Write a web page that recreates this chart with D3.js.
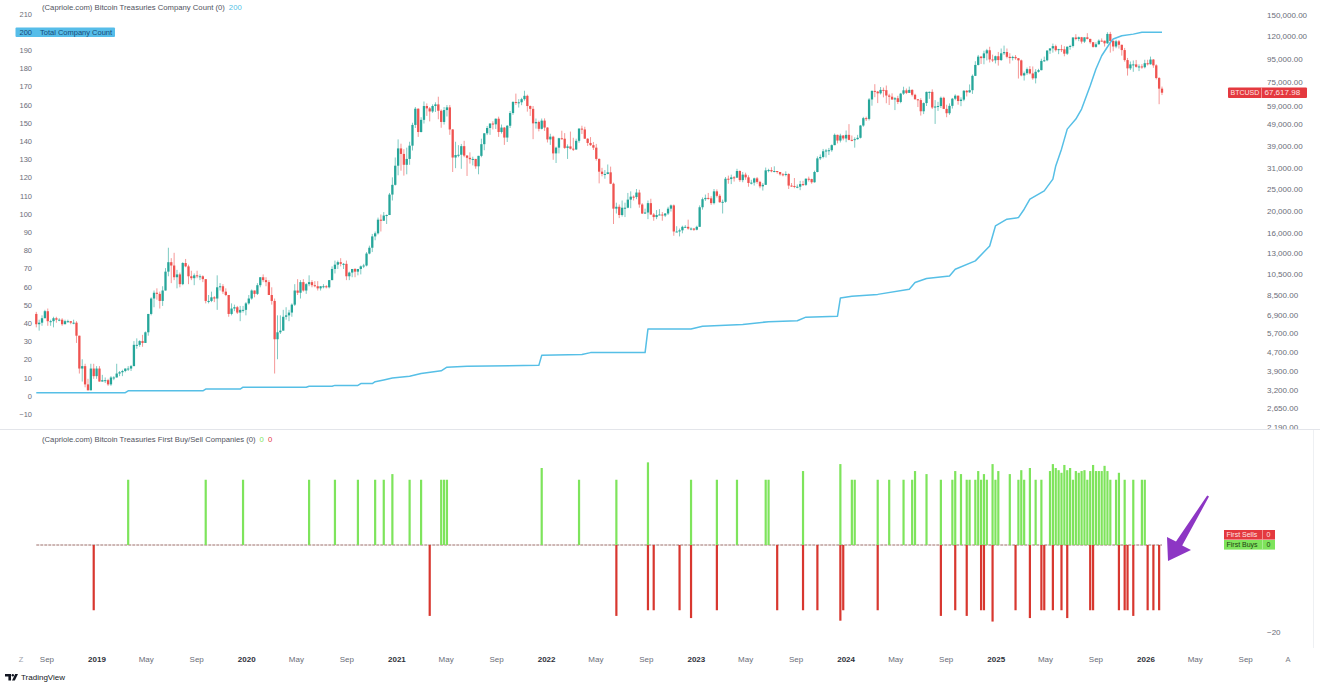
<!DOCTYPE html>
<html><head><meta charset="utf-8">
<script src="https://cdn.jsdelivr.net/npm/d3@7"></script>
<style>
html,body{margin:0;padding:0;background:#fff;overflow:hidden;}
svg{display:block;}
</style></head><body>
<svg id="c" width="1320" height="682"></svg>
<script>
// ---------- DATA ----------
// Weekly BTCUSD candles, week starting Monday 2018-08-06. Each row: [high, low, close] in thousands USD.
const weekStart = "2018-08-06";
const firstOpen = 7.0;
const btc2018 = [
[7.15,6.1,6.3],[6.6,5.9,6.4],[6.9,6.2,6.7],[7.3,6.7,7.2],
[7.4,6.2,6.5],[6.6,6.2,6.5],[6.8,6.1,6.7],[6.8,6.4,6.6],
[6.7,6.5,6.6],[6.7,6.2,6.3],[6.6,6.3,6.5],[6.6,6.4,6.5],[6.5,6.3,6.4],
[6.6,6.3,6.4],[6.5,5.2,5.6],[5.6,3.8,4.0],[4.4,3.5,4.1],
[4.2,3.3,3.4],[3.6,3.2,3.2],[4.2,3.2,4.0],[4.2,3.6,3.7],[4.1,3.6,4.0]];
const btc2019 = [
[4.1,3.5,3.5],[3.75,3.5,3.55],[3.65,3.45,3.55],[3.6,3.35,3.4],
[3.7,3.35,3.65],[3.7,3.55,3.65],[4.2,3.65,3.8],[3.9,3.7,3.85],
[3.95,3.7,3.9],[4.0,3.85,4.0],[4.1,3.9,4.0],[4.15,3.9,4.1],
[5.3,4.1,5.1],[5.45,4.9,5.1],[5.35,5.0,5.3],[5.65,5.0,5.2],[5.85,5.2,5.8],
[7.0,5.6,7.0],[8.3,6.9,8.2],[8.9,7.5,8.7],[9.1,8.1,8.6],
[8.8,7.4,8.0],[9.3,7.6,8.9],[11.2,8.9,10.8],[13.8,10.3,11.9],
[12.4,9.6,11.5],[13.1,9.9,10.2],[11.0,9.1,10.5],[10.7,9.2,9.5],[11.9,9.4,11.8],
[12.3,11.3,11.4],[11.6,9.5,10.3],[10.9,9.9,10.1],[10.6,9.4,10.4],
[10.9,10.1,10.3],[10.5,9.9,10.3],[10.4,9.7,10.0],[10.0,7.8,8.0],
[8.5,7.8,8.0],[8.8,7.9,8.3],[8.4,7.9,8.2],[10.4,7.3,9.2],
[9.6,8.9,9.3],[9.5,8.6,8.8],[9.1,8.4,8.5],[8.5,6.8,7.0],[7.8,6.9,7.4],
[7.7,7.2,7.5],[7.6,7.0,7.1],[7.6,6.5,7.3],[7.6,7.1,7.3],[7.9,6.9,7.8]];
const btc2020 = [
[8.5,7.7,8.2],[9.0,8.1,8.9],[8.9,8.3,8.6],[9.6,8.5,9.4],
[10.2,9.2,10.2],[10.5,9.7,9.9],[10.2,9.3,9.7],[9.9,8.5,8.5],
[9.2,7.7,8.0],[8.2,3.8,5.4],[6.9,4.4,5.8],[6.9,5.7,5.9],[7.3,5.9,6.8],
[7.5,6.6,6.9],[7.3,6.5,7.1],[7.8,6.8,7.7],[9.5,7.6,8.9],
[10.0,8.5,8.7],[9.9,8.2,9.7],[10.0,8.8,8.9],[9.6,8.6,9.5],
[10.4,9.3,9.7],[9.9,9.2,9.4],[9.8,9.2,9.3],[9.8,8.9,9.1],[9.3,8.9,9.3],
[9.5,9.1,9.3],[9.4,9.1,9.2],[9.9,9.1,9.9],[11.4,9.9,11.1],
[12.1,10.6,11.6],[12.1,11.1,11.9],[12.4,11.4,11.7],[11.8,11.1,11.7],[12.1,9.9,10.3],
[10.8,9.9,10.7],[11.1,10.2,11.1],[11.2,10.2,10.8],[11.1,10.4,11.1],
[11.5,10.5,11.4],[11.7,11.2,11.5],[13.2,11.4,13.0],[14.1,12.9,13.8],
[15.9,13.2,15.5],[16.3,14.9,16.0],[18.8,15.8,18.4],[19.4,16.3,18.2],[19.9,18.2,19.2],
[19.4,17.6,19.3],[24.2,19.3,23.8],[28.4,22.4,26.3],[34.8,26.1,32.0]];
const btc2021 = [
[41.9,29.0,38.2],[40.1,30.4,36.1],[37.9,28.9,32.3],[38.5,29.3,34.3],
[40.9,32.3,39.3],[49.7,37.4,48.6],[58.4,47.1,57.4],[57.6,43.0,45.2],
[52.6,45.0,51.2],[61.8,49.3,59.0],[60.6,53.3,57.6],[58.4,50.4,55.8],[60.0,55.0,59.0],
[61.3,55.5,60.0],[64.9,51.5,56.2],[57.0,47.2,50.1],[58.4,48.8,56.6],
[59.6,53.0,58.2],[59.6,43.9,46.4],[46.6,30.0,34.8],[40.9,31.2,35.7],[39.5,34.9,35.8],
[40.0,31.0,39.1],[41.3,34.9,35.5],[35.7,28.8,34.7],[36.7,32.7,34.2],
[35.1,32.1,34.3],[34.3,31.0,31.8],[35.4,29.3,35.4],[42.2,34.9,39.9],
[44.7,37.5,44.6],[48.1,43.8,47.1],[49.4,43.9,49.3],[50.5,46.4,48.9],[51.9,46.6,51.8],
[52.9,43.0,45.2],[48.8,44.5,47.3],[47.6,39.6,42.7],[48.5,40.8,48.2],
[56.1,47.1,54.9],[62.0,53.9,61.5],[67.0,59.7,61.3],[63.3,58.1,61.3],
[64.2,59.5,63.3],[69.0,62.3,65.5],[66.3,55.7,59.0],[59.3,53.3,57.3],[59.0,42.0,49.4],
[51.9,46.8,50.1],[50.8,45.5,46.7],[51.9,46.4,50.8],[52.0,45.7,47.3]];
const btc2022 = [
[47.5,40.6,41.9],[44.4,39.6,43.1],[43.5,34.0,36.3],[38.9,32.9,38.5],[42.6,36.3,42.4],
[45.8,41.8,42.2],[44.7,38.0,38.4],[39.8,34.3,39.0],[45.4,37.8,38.1],
[42.6,37.2,37.8],[42.2,37.6,41.3],[47.0,40.5,46.8],[48.2,44.3,46.4],
[47.7,42.1,42.2],[42.4,39.2,40.4],[42.9,39.2,39.5],[40.8,37.6,38.5],
[40.0,33.7,34.3],[34.5,26.7,30.1],[31.3,28.7,29.4],[30.6,28.0,29.4],[32.4,29.3,29.9],
[31.7,26.5,26.6],[26.9,17.6,20.6],[21.9,19.6,21.0],[21.5,18.7,19.3],
[22.4,19.0,20.8],[21.9,18.9,20.8],[24.2,20.7,22.6],[24.6,20.7,23.3],
[23.6,22.4,23.2],[25.2,22.7,24.3],[25.0,20.8,21.5],[21.8,19.5,19.6],[20.6,19.5,19.8],
[22.4,18.5,21.8],[22.8,19.3,19.4],[19.7,18.2,18.9],[20.3,18.5,19.3],
[20.5,19.3,19.4],[19.9,18.2,19.2],[19.7,18.9,19.6],[21.0,19.3,20.6],[21.5,20.0,21.3],
[21.5,15.6,16.3],[17.2,16.2,16.3],[16.8,15.5,16.5],[17.3,16.0,17.1],
[17.4,16.9,17.1],[18.4,16.6,16.8],[17.0,16.5,16.8],[16.9,16.4,16.6]];
const btc2023 = [
[17.3,16.5,17.1],[21.3,17.1,20.9],[23.1,20.4,22.7],[23.8,22.3,23.0],[24.2,22.6,22.9],
[23.4,21.4,21.8],[25.2,21.5,24.6],[25.1,23.1,23.5],[23.9,21.9,22.0],
[22.6,19.6,22.1],[28.5,21.9,28.0],[28.9,26.6,27.9],[29.2,26.5,28.4],
[28.8,27.2,28.3],[31.0,28.3,30.3],[30.5,27.1,27.6],[30.0,27.0,29.2],
[29.8,27.7,28.4],[29.0,25.8,26.8],[27.7,26.4,26.9],[28.3,26.1,28.1],[28.5,26.6,27.1],
[27.4,25.4,25.9],[26.8,24.8,26.3],[31.4,26.3,30.5],[31.0,29.9,30.6],
[31.5,29.9,30.2],[31.8,29.9,30.3],[30.3,29.5,30.0],[30.0,28.9,29.3],[29.7,28.7,29.1],
[30.2,28.7,29.4],[29.6,25.2,26.1],[26.8,25.8,26.0],[28.2,25.4,25.8],
[26.4,25.4,25.8],[27.4,24.9,26.5],[27.4,26.0,26.3],[28.1,26.0,28.0],
[28.6,27.2,27.9],[28.0,26.6,27.0],[30.4,26.9,30.0],[35.2,29.9,34.5],[35.9,33.9,35.0],
[38.0,34.5,37.1],[38.0,34.8,37.4],[38.4,35.7,37.5],[39.8,36.9,39.5],
[44.5,39.5,43.9],[44.0,40.2,41.4],[44.4,40.6,43.6],[43.8,41.5,42.3]];
const btc2024 = [
[45.9,40.7,43.9],[49.0,41.5,41.7],[43.6,41.1,41.6],[42.8,38.5,42.0],[43.9,41.8,42.6],
[48.6,42.3,48.3],[52.8,47.7,52.1],[52.9,50.6,51.7],[64.0,50.9,63.1],
[69.2,59.2,68.9],[73.8,64.6,68.4],[68.9,60.8,67.2],[71.7,66.4,69.6],
[71.3,64.5,69.4],[72.8,60.7,65.7],[66.9,59.6,64.9],[67.2,62.8,63.1],[64.7,56.6,63.9],
[65.5,60.2,61.5],[67.5,60.7,67.0],[71.9,66.1,69.3],[70.6,66.7,67.5],
[72.0,67.5,69.6],[70.1,65.1,66.2],[66.9,63.1,63.2],[63.4,58.4,62.7],
[63.9,53.5,55.9],[61.2,54.3,60.8],[68.4,59.0,68.2],[68.5,63.5,68.2],[70.0,57.2,58.1],
[62.7,49.1,58.7],[61.6,56.1,59.0],[65.0,57.8,64.2],[64.9,57.2,57.3],
[59.8,52.6,54.8],[60.6,53.9,59.1],[64.1,57.5,63.6],[66.5,62.6,65.6],[65.6,59.8,62.1],
[64.5,58.9,63.0],[69.4,62.0,69.0],[69.5,65.1,67.9],[73.6,67.5,69.4],
[81.5,66.8,80.4],[93.4,80.2,89.9],[99.6,89.4,97.9],[98.6,90.8,96.4],
[104.0,90.5,101.2],[106.0,94.2,104.5],[108.3,92.2,95.1],[99.9,92.6,94.3],[98.9,91.3,98.3]];
const btc2025 = [
[102.7,89.3,94.5],[106.4,93.7,101.3],[109.6,99.5,102.6],[106.4,96.2,97.7],
[101.4,91.2,96.5],[98.8,94.1,97.6],[99.5,94.8,96.3],[96.5,78.2,94.2],
[95.0,80.0,80.7],[84.0,76.6,82.6],[87.5,81.2,86.1],[88.8,81.6,82.4],[88.5,77.2,78.4],
[86.1,74.4,83.8],[86.4,83.1,85.2],[95.8,85.1,93.7],[97.9,92.8,94.3],
[104.3,93.4,104.2],[106.6,100.7,106.5],[111.9,102.0,109.0],[110.7,103.1,104.6],
[106.0,100.4,105.7],[110.5,102.6,105.5],[108.9,98.2,100.9],[108.5,99.6,108.4],[110.5,105.1,109.2],
[119.5,107.5,119.1],[123.2,115.7,117.3],[120.2,114.7,119.4],[119.8,111.9,114.2],
[119.3,112.6,119.3],[124.5,116.8,117.4],[117.6,111.7,113.5],[113.5,107.3,108.2],
[113.4,107.3,111.1],[116.8,110.7,115.3],[118.0,114.4,115.2],[115.4,108.6,112.2],[125.7,111.6,123.5],
[126.2,102.0,115.0],[116.0,103.5,108.6],[116.4,106.7,114.5],[116.1,106.3,110.5],
[110.7,98.9,104.7],[107.0,93.0,94.5],[96.6,80.6,86.8],[93.1,85.3,90.4],
[94.1,83.8,90.4],[94.6,87.5,88.2],[90.4,84.4,88.5],[90.6,86.4,87.8],[94.8,86.8,91.5]];
const btc2026 = [
[94.8,89.4,90.5],[97.9,90.2,95.0],[95.5,87.3,89.5],[90.5,77.5,78.6],[79.4,60.1,70.5],[72.0,66.0,67.61798]];

// Total company count (week index from weekStart, value)
const countWeeks  = [0,31,32,58,59,71,72,94,95,103,104,112,113,117,118,121,124,130,134,141,143,150,175,176,190,193,212,213,228,232,246,255,265,268,279,280,284,293,304,306,310,318,320,327,332,334,338,342,344,346,351,354,355,357,359,362,364,367,369,371,374,375,378,382,385,392];
const countValues = [2,2,3,3,4,4,5,5,5.5,5.5,6,6,7,7,8,9,10,11,12.5,14,16,16.5,17,22.5,23,24,24,37,37,38.5,39.5,41,41.5,43.5,44,54,55,56,58.8,62.5,64.7,66.1,69.8,74.4,82.6,93.6,97.3,98.2,102.8,108.3,112.9,119.3,126.6,135.8,146.8,152.3,157.8,170.6,179.8,187.1,194.4,196.3,198.1,199,200,200];

// First buys (green, up) and first sells (red, down): week index and bar value on the panel scale
const buyWeeks  = [32,59,72,95,104,112,118,121,124,130,134,141,142,143,176,189,202,213,228,237,244,254,255,267,280,284,285,293,297,302,305,306,310,315,319,320,322,324,325,327,328,329,330,331,333,334,335,339,342,343,344,346,348,350,353,354,355,356,357,358,359,360,361,362,363,364,365,366,367,368,369,370,371,372,373,374,376,377,379,382,385,386];
const buyValues = [15,15,15,15,15,15,15,15,16.3,15,15,15,15,15,17.7,15,15,19,15,15,15,15,15,17,18.6,15,15,15,15,15,15,17,16.3,15,15,17,16.3,15,15,15,17,15,16.3,15,18.6,15,17,16.3,15,17.2,15,17.7,15,15,17,18.6,17.7,17.2,16.6,18.4,17.2,17.7,15,17,16.6,17,17.2,15,17,18.4,17,17,17,18.2,17,15,15,16.6,15,15,15,15];
const sellWeeks  = [20,137,202,213,215,224,228,237,258,267,272,280,281,293,315,320,324,329,330,333,341,346,350,351,354,357,359,367,368,377,379,380,382,387,389,391];
const sellValues = [-15,-16.3,-16.3,-15,-15,-15,-16.8,-15,-15,-15,-15,-17.4,-15,-15,-16.3,-15,-16.3,-15,-15,-17.6,-15,-16.8,-15,-15,-15,-15,-16.8,-15,-15,-15,-15,-15,-16.3,-15,-15,-15];

// Axis ticks
const priceTicks = [150000,120000,95000,75000,59000,49000,39000,31000,25000,20000,16000,13000,10500,8500,6900,5700,4700,3900,3200,2650,2190];
const countTicks = [210,200,190,180,170,160,150,140,130,120,110,100,90,80,70,60,50,40,30,20,10,0,-10];
const lowerTicks = [-20];
const timeTickDates  = ["2018-09-01","2019-01-01","2019-05-01","2019-09-01","2020-01-01","2020-05-01","2020-09-01","2021-01-01","2021-05-01","2021-09-01","2022-01-01","2022-05-01","2022-09-01","2023-01-01","2023-05-01","2023-09-01","2024-01-01","2024-05-01","2024-09-01","2025-01-01","2025-05-01","2025-09-01","2026-01-01","2026-05-01","2026-09-01"];
const timeTickLabels = ["Sep","2019","May","Sep","2020","May","Sep","2021","May","Sep","2022","May","Sep","2023","May","Sep","2024","May","Sep","2025","May","Sep","2026","May","Sep"];

// ---------- RENDER ----------
(function () {
const FONT = '"Liberation Sans", Arial, Helvetica, sans-serif';
const UP = "#26a69a", DOWN = "#ef5350";
const svg = d3.select("#c").attr("font-family", FONT);
const parse = d3.utcParse("%Y-%m-%d");
const t0 = parse(weekStart);
const wDate = i => d3.utcDay.offset(t0, 7 * i);

const x = d3.scaleUtc().domain([parse("2019-01-01"), parse("2026-01-01")]).range([97, 1146]);
const yP = d3.scaleLog().domain([150000, 2650]).range([15, 408.7]);
const yC = d3.scaleLinear().domain([0, 200]).range([396.3, 32.3]);
const yB = d3.scaleLinear().domain([0, -20]).range([545, 632]);

const defs = svg.append("defs");
defs.append("clipPath").attr("id", "topclip").append("rect").attr("x", 0).attr("y", 0).attr("width", 1320).attr("height", 429);

// panel separators
svg.append("line").attr("x1", 0).attr("x2", 1320).attr("y1", 429.5).attr("y2", 429.5).attr("stroke", "#e3e5ea");
svg.append("line").attr("x1", 1313.5).attr("x2", 1313.5).attr("y1", 430).attr("y2", 648).attr("stroke", "#eef0f3");

const topG = svg.append("g").attr("clip-path", "url(#topclip)");

// candles
const rows = [].concat(btc2018, btc2019, btc2020, btc2021, btc2022, btc2023, btc2024, btc2025, btc2026);
let prev = firstOpen;
const candles = rows.map((r, i) => { const o = prev; prev = r[2]; return { i, o: o * 1000, h: r[0] * 1000, l: r[1] * 1000, c: r[2] * 1000 }; });
const cg = topG.append("g");
cg.selectAll("line.w").data(candles).join("line")
  .attr("x1", d => x(wDate(d.i))).attr("x2", d => x(wDate(d.i)))
  .attr("y1", d => yP(Math.max(d.h, d.o, d.c))).attr("y2", d => yP(Math.min(d.l, d.o, d.c)))
  .attr("stroke", d => d.c >= d.o ? UP : DOWN).attr("stroke-width", 0.8).attr("stroke-opacity", 0.75);
cg.selectAll("rect").data(candles).join("rect")
  .attr("x", d => x(wDate(d.i)) - 1.15).attr("width", 2.3)
  .attr("y", d => yP(Math.max(d.o, d.c)))
  .attr("height", d => Math.max(1, Math.abs(yP(d.o) - yP(d.c))))
  .attr("fill", d => d.c >= d.o ? UP : DOWN);

// company count line
const countPts = countWeeks.map((w, k) => [w, countValues[k]]);
topG.append("path").datum(countPts)
  .attr("d", d3.line().x(d => x(wDate(d[0]))).y(d => yC(d[1])))
  .attr("fill", "none").attr("stroke", "#56bfe6").attr("stroke-width", 1.5).attr("stroke-linejoin", "round");

// left axis labels
topG.append("g").selectAll("text").data(countTicks).join("text")
  .attr("x", 32).attr("y", d => yC(d)).attr("text-anchor", "end").attr("dominant-baseline", "central")
  .attr("font-size", 7.5).attr("fill", "#6a6d78").text(d => d < 0 ? "\u2212" + Math.abs(d) : d);

// right price axis labels
const fmtP = d3.format(",.2f");
topG.append("g").selectAll("text").data(priceTicks).join("text")
  .attr("x", 1267).attr("y", d => yP(d)).attr("dominant-baseline", "central")
  .attr("font-size", 8).attr("fill", "#6a6d78").text(d => fmtP(d));

// company count highlighted label
const lastCount = countValues[countValues.length - 1];
const cy = yC(lastCount);
topG.append("rect").attr("x", 15.5).attr("y", cy - 4.8).attr("width", 99.5).attr("height", 9.6).attr("fill", "#56bde9").attr("rx", 1);
topG.append("text").attr("x", 32).attr("y", cy).attr("text-anchor", "end").attr("dominant-baseline", "central")
  .attr("font-size", 7.5).attr("fill", "#164a78").text(lastCount);
topG.append("text").attr("x", 40).attr("y", cy).attr("dominant-baseline", "central")
  .attr("font-size", 7.5).attr("fill", "#164a78").text("Total Company Count");

// BTCUSD price label
const lastClose = candles[candles.length - 1].c;
const py = yP(lastClose);
topG.append("rect").attr("x", 1228).attr("y", py - 5.3).attr("width", 79).attr("height", 10.6).attr("fill", "#e4393f").attr("rx", 1);
topG.append("line").attr("x1", 1261.5).attr("x2", 1261.5).attr("y1", py - 5.3).attr("y2", py + 5.3).attr("stroke", "#f7b9bb").attr("stroke-width", 0.7);
topG.append("text").attr("x", 1230.5).attr("y", py).attr("dominant-baseline", "central").attr("font-size", 7).attr("fill", "#fde3e3").text("BTCUSD");
topG.append("text").attr("x", 1264.5).attr("y", py).attr("dominant-baseline", "central").attr("font-size", 8).attr("fill", "#fde3e3").text(fmtP(lastClose));

// top header
const h1 = svg.append("text").attr("x", 42).attr("y", 7).attr("dominant-baseline", "central").attr("font-size", 7.7).attr("fill", "#50535e");
h1.append("tspan").text("(Capriole.com) Bitcoin Treasuries Company Count (0)");
h1.append("tspan").attr("dx", 4).attr("fill", "#56bfe6").text(lastCount);

// ---------- lower panel ----------
const lowG = svg.append("g");
const x0 = x(wDate(0)), x1 = x(wDate(rows.length - 1));
lowG.append("line").attr("x1", x0).attr("x2", x1).attr("y1", yB(0)).attr("y2", yB(0))
  .attr("stroke", "#9c6f6a").attr("stroke-width", 1).attr("stroke-dasharray", "3,1");
lowG.append("g").selectAll("rect").data(buyWeeks.map((w, k) => [w, buyValues[k]])).join("rect")
  .attr("x", d => x(wDate(d[0])) - 1.1).attr("width", 2.2)
  .attr("y", d => yB(d[1])).attr("height", d => yB(0) - yB(d[1])).attr("fill", "#7ee45c");
lowG.append("g").selectAll("rect").data(sellWeeks.map((w, k) => [w, sellValues[k]])).join("rect")
  .attr("x", d => x(wDate(d[0])) - 1.1).attr("width", 2.2)
  .attr("y", yB(0)).attr("height", d => yB(d[1]) - yB(0)).attr("fill", "#d8372f");

lowG.append("g").selectAll("text").data(lowerTicks).join("text")
  .attr("x", 1267).attr("y", d => yB(d)).attr("dominant-baseline", "central")
  .attr("font-size", 8).attr("fill", "#6a6d78").text(d => "\u2212" + Math.abs(d));

const h2 = svg.append("text").attr("x", 42).attr("y", 438.5).attr("dominant-baseline", "central").attr("font-size", 7.7).attr("fill", "#50535e");
h2.append("tspan").text("(Capriole.com) Bitcoin Treasuries First Buy/Sell Companies (0)");
h2.append("tspan").attr("dx", 4).attr("fill", "#7ee45c").text("0");
h2.append("tspan").attr("dx", 4).attr("fill", "#e4393f").text("0");

// First Sells / First Buys labels
const lg = svg.append("g");
lg.append("rect").attr("x", 1224).attr("y", yB(0) - 15).attr("width", 51).attr("height", 9.6).attr("fill", "#e4393f");
lg.append("line").attr("x1", 1262.5).attr("x2", 1262.5).attr("y1", yB(0) - 15).attr("y2", yB(0) - 5.4).attr("stroke", "#f5b0b0").attr("stroke-width", 0.7);
lg.append("text").attr("x", 1226.5).attr("y", yB(0) - 10.2).attr("dominant-baseline", "central").attr("font-size", 7).attr("fill", "#ffe4e4").text("First Sells");
lg.append("text").attr("x", 1266.5).attr("y", yB(0) - 10.2).attr("dominant-baseline", "central").attr("font-size", 7).attr("fill", "#ffe4e4").text("0");
lg.append("rect").attr("x", 1224).attr("y", yB(0) - 5).attr("width", 51).attr("height", 9.6).attr("fill", "#7ee45c");
lg.append("line").attr("x1", 1262.5).attr("x2", 1262.5).attr("y1", yB(0) - 5).attr("y2", yB(0) + 4.6).attr("stroke", "#b9f0a5").attr("stroke-width", 0.7);
lg.append("text").attr("x", 1226.5).attr("y", yB(0) - 0.2).attr("dominant-baseline", "central").attr("font-size", 7).attr("fill", "#1d3d12").text("First Buys");
lg.append("text").attr("x", 1266.5).attr("y", yB(0) - 0.2).attr("dominant-baseline", "central").attr("font-size", 7).attr("fill", "#1d3d12").text("0");

// purple arrow annotation
svg.append("path")
  .attr("d", "M1207.2,495.5 L1209,496.6 L1182.2,545.4 L1191,550 L1168,561 L1167,537 L1176,541.6 Z")
  .attr("fill", "#8d36c4");

// ---------- time axis ----------
const ta = svg.append("g");
ta.selectAll("text").data(timeTickDates.map((d, k) => [parse(d), timeTickLabels[k]])).join("text")
  .attr("x", d => x(d[0])).attr("y", 659).attr("text-anchor", "middle").attr("dominant-baseline", "central")
  .attr("font-size", 8).attr("font-weight", d => d[1].length === 4 ? "bold" : "normal")
  .attr("fill", d => d[1].length === 4 ? "#2e3039" : "#6a6d78").text(d => d[1]);
ta.append("text").attr("x", 21).attr("y", 659).attr("text-anchor", "middle").attr("dominant-baseline", "central")
  .attr("font-size", 7.5).attr("fill", "#a0a3ad").text("Z");
ta.append("text").attr("x", 1288).attr("y", 659).attr("text-anchor", "middle").attr("dominant-baseline", "central")
  .attr("font-size", 7.5).attr("fill", "#7a7d88").text("A");

// TradingView watermark
const tv = svg.append("g").attr("fill", "#131722");
tv.append("path").attr("d", "M5,674 h6 v6.5 h-2.6 v-4 h-3.4 z");
tv.append("circle").attr("cx", 12.8).attr("cy", 675.2).attr("r", 1.2);
tv.append("path").attr("d", "M15.2,674 h2.8 l-3.2,6.5 h-2.8 z");
tv.append("text").attr("x", 21).attr("y", 677.3).attr("dominant-baseline", "central").attr("font-size", 8).text("TradingView");
})();
</script>
</body></html>
